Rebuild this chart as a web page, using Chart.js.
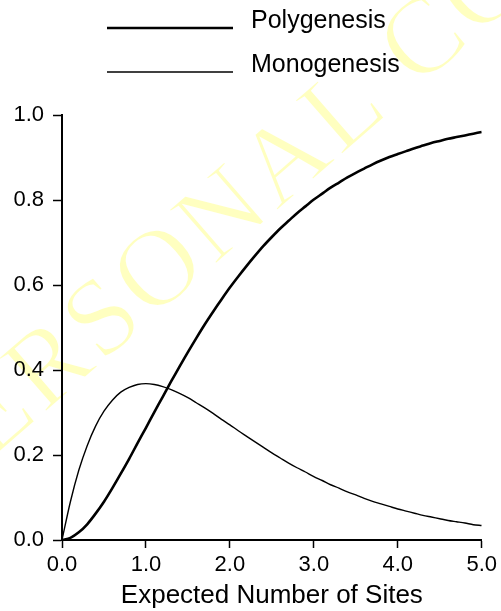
<!DOCTYPE html>
<html>
<head>
<meta charset="utf-8">
<script src="https://cdn.jsdelivr.net/npm/chart.js@4.4.1/dist/chart.umd.min.js"></script>
<style>
  html, body { margin: 0; padding: 0; background: #ffffff; }
  #wrap { width: 501px; height: 611px; position: relative; }
</style>
</head>
<body>
<div id="wrap"><canvas id="c" width="501" height="611"></canvas></div>
<script>
// Expected number of sites (x values)
const sites = [0.0,0.1,0.2,0.3,0.4,0.5,0.6,0.7,0.8,0.9,1.0,1.1,1.2,1.3,1.4,1.5,1.6,1.7,1.8,1.9,2.0,2.1,2.2,2.3,2.4,2.5,2.6,2.7,2.8,2.9,3.0,3.1,3.2,3.3,3.4,3.5,3.6,3.7,3.8,3.9,4.0,4.1,4.2,4.3,4.4,4.5,4.6,4.7,4.8,4.9,5.0];
// Polygenesis probability
const polygenesis = [0.000,0.005,0.018,0.037,0.062,0.090,0.122,0.156,0.191,0.228,0.264,0.301,0.337,0.373,0.408,0.442,0.475,0.507,0.537,0.566,0.594,0.620,0.645,0.669,0.692,0.713,0.733,0.751,0.769,0.785,0.801,0.815,0.829,0.841,0.853,0.864,0.874,0.884,0.893,0.901,0.908,0.915,0.922,0.928,0.934,0.939,0.944,0.948,0.952,0.956,0.960];
// Monogenesis probability
const monogenesis = [0.000,0.090,0.164,0.222,0.268,0.303,0.329,0.348,0.359,0.366,0.368,0.366,0.361,0.354,0.345,0.335,0.323,0.311,0.298,0.284,0.271,0.257,0.244,0.231,0.218,0.205,0.193,0.181,0.170,0.160,0.149,0.140,0.130,0.122,0.113,0.106,0.098,0.091,0.085,0.079,0.073,0.068,0.063,0.058,0.054,0.050,0.046,0.043,0.040,0.036,0.034];
const seriesLabels = ['Polygenesis', 'Monogenesis'];
const xTitle = 'Expected Number of Sites';
const watermarkText = 'PERSONAL COPY';

const toPts = (ys) => sites.map((x, i) => ({ x: x, y: ys[i] }));

const watermark = {
  id: 'watermark',
  beforeDraw(chart) {
    const ctx = chart.ctx;
    ctx.save();
    ctx.translate(-60, 504);
    ctx.rotate(-41 * Math.PI / 180);
    ctx.font = '110px "Liberation Serif", "Times New Roman", serif';
    try { ctx.letterSpacing = '4px'; } catch (e) {}
    ctx.textBaseline = 'alphabetic';
    ctx.fillStyle = '#ffffc0';
    ctx.fillText(watermarkText, 0, 0);
    ctx.strokeStyle = '#ffffff';
    ctx.lineWidth = 2;
    ctx.strokeText(watermarkText, 0, 0);
    ctx.restore();
  }
};

const customLegend = {
  id: 'customLegend',
  afterDraw(chart) {
    const ctx = chart.ctx;
    const ys = [28, 72];
    ctx.save();
    chart.data.datasets.forEach((ds, i) => {
      ctx.beginPath();
      ctx.strokeStyle = ds.borderColor;
      ctx.lineWidth = ds.borderWidth;
      ctx.moveTo(107, ys[i]);
      ctx.lineTo(233, ys[i]);
      ctx.stroke();
      ctx.fillStyle = '#000';
      ctx.font = '25px "Liberation Sans", Arial, sans-serif';
      ctx.textBaseline = 'alphabetic';
      ctx.textAlign = 'left';
      ctx.fillText(ds.label, 251, ys[i]);
    });
    ctx.restore();
  }
};

new Chart(document.getElementById('c'), {
  type: 'line',
  data: {
    datasets: [
      { label: seriesLabels[0], data: toPts(polygenesis), borderColor: '#000', borderWidth: 2.6, pointRadius: 0, tension: 0.3, fill: false },
      { label: seriesLabels[1], data: toPts(monogenesis), borderColor: '#000', borderWidth: 1.4, pointRadius: 0, tension: 0.3, fill: false }
    ]
  },
  options: {
    responsive: false,
    animation: false,
    devicePixelRatio: 1,
    layout: { padding: { top: 115, right: 18, left: 0, bottom: 0 } },
    plugins: { legend: { display: false }, tooltip: { enabled: false } },
    scales: {
      x: {
        type: 'linear', min: 0, max: 5,
        ticks: { stepSize: 1, color: '#000', padding: 4, maxRotation: 0,
                 font: { family: '"Liberation Sans", Arial, sans-serif', size: 22 },
                 callback: (v) => Number(v).toFixed(1) },
        grid: { drawOnChartArea: false, drawTicks: true, tickLength: 8, tickColor: '#000', tickWidth: 1.5 },
        border: { display: true, color: '#000', width: 2 },
        title: { display: true, text: xTitle, color: '#000', padding: { top: 10, bottom: 0 },
                 font: { family: '"Liberation Sans", Arial, sans-serif', size: 26 } },
        afterFit: (s) => { s.height = 71; }
      },
      y: {
        type: 'linear', min: 0, max: 1,
        ticks: { stepSize: 0.2, color: '#000', padding: 9,
                 font: { family: '"Liberation Sans", Arial, sans-serif', size: 22 },
                 callback: (v) => Number(v).toFixed(1) },
        grid: { drawOnChartArea: false, drawTicks: true, tickLength: 9, tickColor: '#000', tickWidth: 1.5 },
        border: { display: true, color: '#000', width: 2 },
        afterFit: (s) => { s.width = 62; }
      }
    }
  },
  plugins: [watermark, customLegend]
});
</script>
</body>
</html>
